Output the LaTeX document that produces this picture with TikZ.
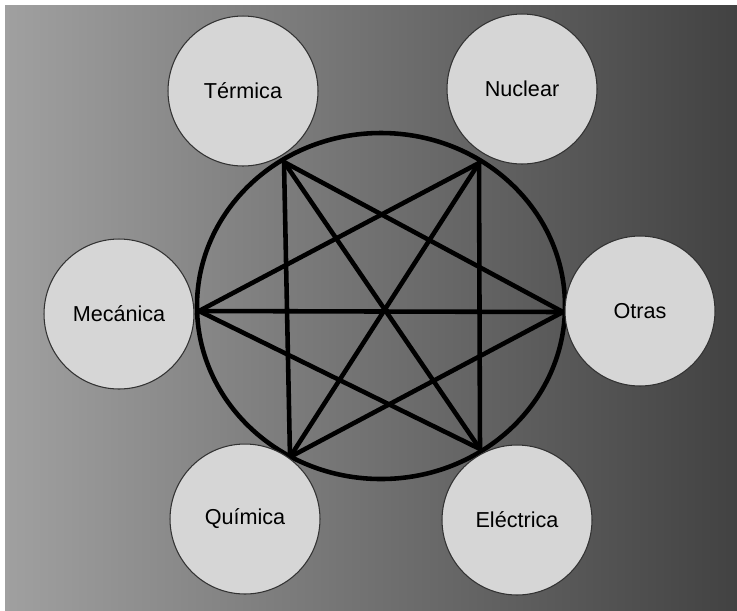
\documentclass[tikz,border=0pt]{standalone}
\usepackage{fontspec}
\setmainfont{Liberation Sans}
\definecolor{fondoclaro}{RGB}{160, 160, 160}
\definecolor{fondooscuro}{RGB}{66, 66, 66}
\definecolor{discogris}{RGB}{214, 214, 214}
\definecolor{bordegris}{RGB}{50, 50, 50}
\usepackage{tikz}

\begin{document}
\begin{tikzpicture}[
  x=0.02cm, y=-0.02cm,
  energia/.style={circle, draw=bordegris, line width=0.6pt, fill=discogris,
                  minimum size=3cm, inner sep=0pt, align=center,
                  font=\fontsize{12.3}{14}\selectfont},
  enlace/.style={line width=2.6pt, black, line cap=round}
]

\useasboundingbox (0,0) rectangle (737,610);
\shade[left color=fondoclaro, right color=fondooscuro] (5,5) rectangle (737,610);

% rueda central y vertices de la estrella
\draw[enlace] (381,306) ellipse [x radius=184, y radius=173];

\coordinate (vTL) at (284,162);
\coordinate (vTR) at (479,163);
\coordinate (vL)  at (199,311);
\coordinate (vR)  at (563,312);
\coordinate (vBL) at (290,457);
\coordinate (vBR) at (480,449);

\draw[enlace] (vTL) -- (vBL);
\draw[enlace] (vTL) -- (vR);
\draw[enlace] (vTL) -- (vBR);
\draw[enlace] (vTR) -- (vBR);
\draw[enlace] (vTR) -- (vL);
\draw[enlace] (vTR) -- (vBL);
\draw[enlace] (vL)  -- (vR);
\draw[enlace] (vL)  -- (vBR);
\draw[enlace] (vR)  -- (vBL);

% tipos de energia
\node[energia] (termica)   at (243,91)  {Térmica};
\node[energia] (nuclear)   at (522,89)  {Nuclear};
\node[energia] (mecanica)  at (119,314) {Mecánica};
\node[energia] (otras)     at (640,311) {Otras};
\node[energia] (quimica)   at (245,519) {Química};
\node[energia] (electrica) at (517,520) {Eléctrica};

\end{tikzpicture}
\end{document}
